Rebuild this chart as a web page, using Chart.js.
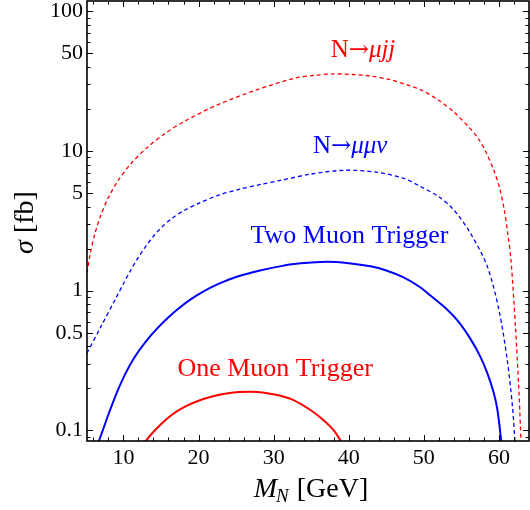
<!DOCTYPE html>
<html><head><meta charset="utf-8">
<script src="https://cdn.jsdelivr.net/npm/chart.js@4.4.1/dist/chart.umd.min.js"></script>
<style>html,body{margin:0;padding:0;background:#fff}#wrap{width:530px;height:510px;position:relative}</style>
</head><body><div id="wrap"><canvas id="c"></canvas></div>
<script>
// N -> mu j j (red dashed)
const muJJMass  = [5.15, 5.6, 6.2, 7, 8, 9.33, 11, 13, 15.5, 18.2, 22.7, 27.5, 32.7, 35.5, 38, 40.5, 42.9, 45.5, 47.8, 49.6, 51.8, 54, 56, 57.1, 58.2, 59.3, 60.1, 60.7, 61.2, 61.6, 62.2, 62.67, 62.95];
const muJJSigma = [1.34, 1.86, 2.56, 3.48, 4.64, 6.18, 8.11, 10.4, 13.3, 16.4, 21.6, 27.1, 33.1, 34.8, 35.6, 35.3, 34.4, 32.4, 29.7, 27.4, 23.4, 19.0, 14.8, 12.6, 10.0, 7.3, 5.4, 3.8, 2.5, 1.66, 0.55, 0.184, 0.08];
// N -> mu mu nu (blue dashed)
const muMuNuMass  = [5.15, 7, 9, 10, 11, 12, 13, 14, 15, 16.5, 18.2, 20, 22.7, 25.5, 28.4, 30.9, 35, 39.3, 43.5, 47.3, 49.6, 52, 54, 56.2, 58.45, 60, 61.1, 61.8, 62.15];
const muMuNuSigma = [0.358, 0.553, 0.885, 1.122, 1.413, 1.738, 2.089, 2.455, 2.818, 3.311, 3.784, 4.217, 4.842, 5.333, 5.781, 6.166, 6.839, 7.278, 7.079, 6.383, 5.546, 4.70, 3.78, 2.58, 1.49, 0.728, 0.319, 0.148, 0.08];
// Two muon trigger (blue solid)
const twoMuMass  = [6.6, 7.3, 8, 9, 10.2, 11.5, 12.9, 14.5, 16, 17.5, 19, 20.5, 22.5, 25, 28.2, 31, 33.6, 37.1, 40, 42.9, 45, 47.3, 49.5, 51, 52.7, 54.5, 56.2, 57.5, 58.45, 59.3, 59.8, 60.35];
const twoMuSigma = [0.080, 0.102, 0.130, 0.180, 0.251, 0.335, 0.427, 0.537, 0.646, 0.759, 0.871, 0.977, 1.109, 1.253, 1.396, 1.500, 1.570, 1.611, 1.574, 1.496, 1.396, 1.245, 1.059, 0.912, 0.767, 0.610, 0.452, 0.339, 0.257, 0.186, 0.140, 0.080];
// One muon trigger (red solid)
const oneMuMass  = [12.7, 13.5, 15.1, 16.5, 18.2, 20, 21.8, 23.5, 25.3, 27, 28.5, 30.5, 32.5, 34.9, 36.5, 38, 39.2];
const oneMuSigma = [0.080, 0.0912, 0.112, 0.130, 0.148, 0.163, 0.175, 0.183, 0.188, 0.189, 0.187, 0.179, 0.166, 0.140, 0.120, 0.100, 0.080];

const xTickValues = [10, 20, 30, 40, 50, 60];
const xTickLabels = ['10', '20', '30', '40', '50', '60'];
const xMinorTicks = [6, 8, 12, 14, 16, 18, 22, 24, 26, 28, 32, 34, 36, 38, 42, 44, 46, 48, 52, 54, 56, 58, 62];
const yTickValues = [0.1, 0.5, 1, 5, 10, 50, 100];
const yTickLabels = ['0.1', '0.5', '1', '5', '10', '50', '100'];
const yMinorTicks = [0.09, 0.2, 0.3, 0.4, 0.6, 0.7, 0.8, 0.9, 2, 3, 4, 6, 7, 8, 9, 20, 30, 40, 60, 70, 80, 90];

// annotation texts: [text, style] segments (n = normal, i = italic, a = arrow)
const annoTexts = [
  [['N', 'n'], ['\u2192', 'a'], ['\u03BCjj', 'i']],
  [['N', 'n'], ['\u2192', 'a'], ['\u03BC\u03BC\u03BD', 'i']],
  [['Two Muon Trigger', 'n']],
  [['One Muon Trigger', 'n']]
];
const annoMass  = [41.9, 40.2, 40.1, 30.2];
const annoSigma = [47, 9.7, 2.18, 0.245];
const annoColors = ['#ff0000', '#0000ff', '#0000ff', '#ff0000'];
const annoSizes = [25, 25, 26, 26];

const SERIF = '"Liberation Serif", "Times New Roman", serif';

function pts(xs, ys) { return xs.map((x, i) => ({x: x, y: ys[i]})); }
function segFont(style, size) {
  if (style === 'i') return 'italic ' + size + 'px ' + SERIF;
  if (style === 'a') return Math.round(size * 0.95) + 'px "DejaVu Serif", "DejaVu Sans", serif';
  return size + 'px ' + SERIF;
}

const decor = {
  id: 'decor',
  afterDatasetsDraw(chart) {
    const ctx = chart.ctx, a = chart.chartArea;
    const xs = chart.scales.x, ys = chart.scales.y;
    ctx.save();
    ctx.strokeStyle = '#000';
    ctx.lineWidth = 1;
    const tickX = (v, len) => {
      const p = Math.round(xs.getPixelForValue(v)) + 0.5;
      ctx.beginPath();
      ctx.moveTo(p, a.bottom); ctx.lineTo(p, a.bottom - len);
      ctx.moveTo(p, a.top); ctx.lineTo(p, a.top + len);
      ctx.stroke();
    };
    const tickY = (v, len) => {
      const p = Math.round(ys.getPixelForValue(v)) + 0.5;
      ctx.beginPath();
      ctx.moveTo(a.left, p); ctx.lineTo(a.left + len, p);
      ctx.moveTo(a.right, p); ctx.lineTo(a.right - len, p);
      ctx.stroke();
    };
    xTickValues.forEach(v => tickX(v, 6));
    xMinorTicks.forEach(v => tickX(v, 3.5));
    yTickValues.forEach(v => tickY(v, 6));
    yMinorTicks.forEach(v => tickY(v, 3.5));
    ctx.lineWidth = 1.6;
    ctx.strokeRect(a.left, a.top, a.right - a.left, a.bottom - a.top);

    ctx.textBaseline = 'alphabetic';
    ctx.textAlign = 'left';
    annoTexts.forEach((segs, i) => {
      const fonts = segs.map(s => segFont(s[1], annoSizes[i]));
      let total = 0;
      const widths = segs.map((s, j) => { ctx.font = fonts[j]; const w = ctx.measureText(s[0]).width; total += w; return w; });
      let x = xs.getPixelForValue(annoMass[i]) - total / 2;
      const y = ys.getPixelForValue(annoSigma[i]);
      ctx.fillStyle = annoColors[i];
      segs.forEach((s, j) => { ctx.font = fonts[j]; ctx.fillText(s[0], x, y); x += widths[j]; });
    });
    ctx.restore();
  },
  afterDraw(chart) {
    const ctx = chart.ctx;
    ctx.save();
    ctx.fillStyle = '#000';
    ctx.textBaseline = 'alphabetic';
    ctx.textAlign = 'left';
    // x title: M_N [GeV]
    const fM = 'italic 28px ' + SERIF, fN = 'italic 19px ' + SERIF, fR = '28px ' + SERIF;
    ctx.font = fM; const wM = ctx.measureText('M').width;
    ctx.font = fN; const wN = ctx.measureText('N').width;
    ctx.font = fR; const wR = ctx.measureText(' [GeV]').width;
    const total = wM + wN + wR;
    let x = 311 - total / 2;
    const yb = 497;
    ctx.font = fM; ctx.fillText('M', x, yb); x += wM;
    ctx.font = fN; ctx.fillText('N', x - 1, yb + 5); x += wN;
    ctx.font = fR; ctx.fillText(' [GeV]', x, yb);
    // y title: sigma [fb]
    const fS = 'italic 28px ' + SERIF;
    ctx.font = fS; const wS = ctx.measureText('\u03C3').width;
    ctx.font = fR; const wF = ctx.measureText(' [fb]').width;
    ctx.translate(32.5, 222.5);
    ctx.rotate(-Math.PI / 2);
    let t = -(wS + wF) / 2;
    ctx.font = fS; ctx.fillText('\u03C3', t, 0); t += wS;
    ctx.font = fR; ctx.fillText(' [fb]', t, 0);
    ctx.restore();
  }
};

const tickFont = {family: SERIF, size: 22};

new Chart(document.getElementById('c'), {
  type: 'line',
  data: {
    datasets: [
      {data: pts(muJJMass, muJJSigma), borderColor: '#ff0000', borderWidth: 1.3, borderDash: [4, 3], tension: 0.3},
      {data: pts(muMuNuMass, muMuNuSigma), borderColor: '#0000ff', borderWidth: 1.3, borderDash: [4, 3], tension: 0.3},
      {data: pts(twoMuMass, twoMuSigma), borderColor: '#0000ff', borderWidth: 2, tension: 0.3},
      {data: pts(oneMuMass, oneMuSigma), borderColor: '#ff0000', borderWidth: 2, tension: 0.3}
    ]
  },
  options: {
    responsive: true, maintainAspectRatio: false, animation: false, devicePixelRatio: 1,
    layout: {padding: {top: 1, right: 1, left: 0, bottom: 0}},
    plugins: {legend: {display: false}, tooltip: {enabled: false}},
    elements: {point: {radius: 0}, line: {fill: false}},
    scales: {
      x: {
        type: 'linear', min: 5.15, max: 64,
        grid: {display: false, drawTicks: false}, border: {display: false},
        afterBuildTicks(s) { s.ticks = xTickValues.map(v => ({value: v})); },
        afterFit(s) { s.height = 69; s.paddingLeft = 0; s.paddingRight = 0; },
        ticks: {font: tickFont, color: '#000', padding: 4, maxRotation: 0, autoSkip: false,
          callback: (v, i) => xTickLabels[i]}
      },
      y: {
        type: 'logarithmic', min: 0.084, max: 118.5,
        grid: {display: false, drawTicks: false}, border: {display: false},
        afterBuildTicks(s) { s.ticks = yTickValues.map(v => ({value: v})); },
        afterFit(s) { s.width = 87; s.paddingTop = 0; s.paddingBottom = 0; },
        ticks: {font: tickFont, color: '#000', padding: 4, autoSkip: false,
          callback: (v, i) => yTickLabels[i]}
      }
    }
  },
  plugins: [decor]
});
</script>
</body></html>
